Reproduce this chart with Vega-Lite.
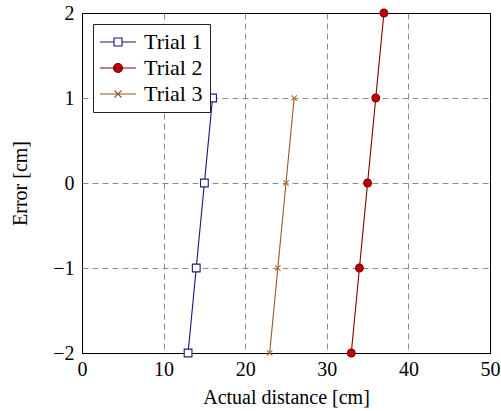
{
  "$schema": "https://vega.github.io/schema/vega-lite/v6.json",
  "width": 408,
  "height": 340,
  "autosize": {"type": "none"},
  "padding": {"left": 82, "top": 13, "right": 11, "bottom": 58},
  "background": "white",
  "config": {
    "view": {"stroke": "black", "strokeWidth": 1},
    "font": "Liberation Serif",
    "axis": {
      "labelFont": "Liberation Serif",
      "titleFont": "Liberation Serif",
      "labelFontSize": 20,
      "titleFontSize": 20,
      "titleFontWeight": "normal",
      "labelColor": "black",
      "titleColor": "black",
      "domain": false,
      "ticks": false,
      "gridWidth": 1,
      "gridOpacity": 1
    },
    "legend": {
      "labelFont": "Liberation Serif",
      "labelFontSize": 22,
      "labelColor": "black"
    }
  },
  "data": {
    "values": [
      {"series": "Trial 1", "x": 13, "y": -2},
      {"series": "Trial 1", "x": 14, "y": -1},
      {"series": "Trial 1", "x": 15, "y": 0},
      {"series": "Trial 1", "x": 16, "y": 1},
      {"series": "Trial 2", "x": 33, "y": -2},
      {"series": "Trial 2", "x": 34, "y": -1},
      {"series": "Trial 2", "x": 35, "y": 0},
      {"series": "Trial 2", "x": 36, "y": 1},
      {"series": "Trial 2", "x": 37, "y": 2},
      {"series": "Trial 3", "x": 23, "y": -2},
      {"series": "Trial 3", "x": 24, "y": -1},
      {"series": "Trial 3", "x": 25, "y": 0},
      {"series": "Trial 3", "x": 26, "y": 1}
    ]
  },
  "encoding": {
    "x": {
      "field": "x", "type": "quantitative",
      "scale": {"domain": [0, 50], "nice": false, "zero": false},
      "axis": {
        "values": [0, 10, 20, 30, 40, 50], "title": "Actual distance [cm]", "labelPadding": 6, "titlePadding": 8, "labelFlush": false,
        "gridColor": {"condition": {"test": "datum.value === 0 || datum.value === 50", "value": "black"}, "value": "#8c8c8c"},
        "gridDash": {"condition": {"test": "datum.value === 0 || datum.value === 50", "value": []}, "value": [6, 4]}
      }
    },
    "y": {
      "field": "y", "type": "quantitative",
      "scale": {"domain": [-2, 2], "nice": false, "zero": false},
      "axis": {
        "values": [-2, -1, 0, 1, 2], "title": "Error [cm]", "labelPadding": 8, "titlePadding": 22, "labelFlush": false,
        "gridColor": {"condition": {"test": "datum.value === -2 || datum.value === 2", "value": "black"}, "value": "#8c8c8c"},
        "gridDash": {"condition": {"test": "datum.value === -2 || datum.value === 2", "value": []}, "value": [6, 4]}
      }
    }
  },
  "layer": [
    {
      "mark": {"type": "line", "strokeWidth": 1.1, "clip": false},
      "encoding": {
        "stroke": {
          "field": "series", "type": "nominal",
          "scale": {"domain": ["Trial 1", "Trial 2", "Trial 3"], "range": ["#16167a", "#800000", "#93592a"]},
          "legend": {
            "title": null, "orient": "none", "legendX": 11, "legendY": 11,
            "strokeColor": "#222222", "fillColor": "white", "padding": 7,
            "symbolSize": 100, "symbolStrokeWidth": 1.1, "labelOffset": 22, "rowPadding": 4, "labelFontSize": 22,
            "encoding": {
              "symbols": {
                "shape": {
                  "condition": [
                    {"test": "datum.value === 'Trial 1'", "value": "M-2.2,0H0.6M2.2,0H5M0.6,-0.8H2.2V0.8H0.6Z"},
                    {"test": "datum.value === 'Trial 2'", "value": "M-2.2,0H5M2.3,0A0.9,0.9 0 1,1 0.5,0A0.9,0.9 0 1,1 2.3,0Z"}
                  ],
                  "value": "M-2.2,0H5M0.7,-0.7L2.1,0.7M0.7,0.7L2.1,-0.7"
                },
                "fill": {
                  "condition": [
                    {"test": "datum.value === 'Trial 1'", "value": "white"},
                    {"test": "datum.value === 'Trial 2'", "value": "#c00000"}
                  ],
                  "value": "transparent"
                },
                "opacity": {"value": 1}
              }
            }
          }
        },
        "detail": {"field": "series"}
      }
    },
    {
      "mark": {"type": "point", "filled": false, "strokeWidth": 1.1, "size": 60, "opacity": 1, "clip": false},
      "encoding": {
        "stroke": {
          "condition": [
            {"test": "datum.series === 'Trial 1'", "value": "#1c1c86"},
            {"test": "datum.series === 'Trial 2'", "value": "#8a0000"}
          ],
          "value": "#a86c2c"
        },
        "fill": {
          "condition": [
            {"test": "datum.series === 'Trial 1'", "value": "white"},
            {"test": "datum.series === 'Trial 2'", "value": "#c00000"}
          ],
          "value": "transparent"
        },
        "shape": {
          "condition": [
            {"test": "datum.series === 'Trial 1'", "value": "square"},
            {"test": "datum.series === 'Trial 2'", "value": "circle"}
          ],
          "value": "M-0.7,-0.7L0.7,0.7M-0.7,0.7L0.7,-0.7"
        }
      }
    }
  ]
}
